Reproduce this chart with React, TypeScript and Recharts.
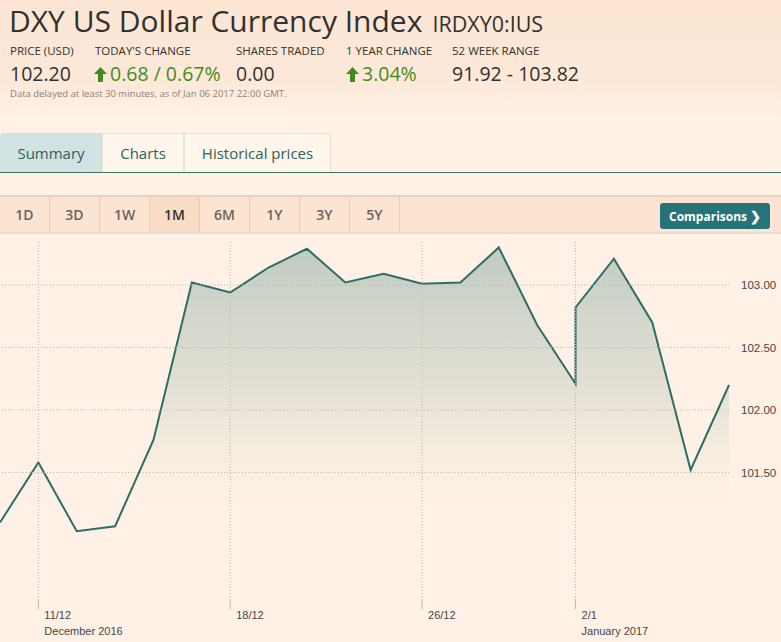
import { AreaChart, Area, XAxis, YAxis, ReferenceLine } from 'recharts';

// trading-day index along the x axis (2/1 appears twice: gap at the open)
const DAY_INDEX = [0, 1, 2, 3, 4, 5, 6, 7, 8, 9, 10, 11, 12, 13, 14, 15, 15, 16, 17, 18, 19];
const CLOSE = [101.10, 101.58, 101.03, 101.07, 101.76, 103.02, 102.94, 103.14, 103.29, 103.02, 103.09,
  103.01, 103.02, 103.30, 102.68, 102.21, 102.82, 103.21, 102.70, 101.52, 102.20];

const X_TICKS = [1, 6, 11, 15];
const X_TICK_LABELS = ['11/12', '18/12', '26/12', '2/1'];
const MONTH_LABELS = ['December 2016', '', '', 'January 2017'];
const Y_TICKS = [101.5, 102, 102.5, 103];

const RANGES = ['1D', '3D', '1W', '1M', '6M', '1Y', '3Y', '5Y'];
const TABS = ['Summary', 'Charts', 'Historical prices'];

const data = DAY_INDEX.map((d, i) => ({ day: d, close: CLOSE[i] }));
const minClose = Math.min(...CLOSE);

const FT = "'Open Sans', sans-serif";
const AX = "'Liberation Sans', Arial, sans-serif";
const GRID = '#bfb4a9';

function DateTick(props: any) {
  const { x, y, payload } = props;
  const k = X_TICKS.indexOf(payload.value);
  return (
    <g>
      <line x1={x} x2={x} y1={y} y2={y + 9} stroke={GRID} strokeWidth={1} />
      <text x={x + 6} y={y + 19} fontSize={11} fill="#4a4541" fontFamily={AX}>{X_TICK_LABELS[k]}</text>
      {MONTH_LABELS[k] && (
        <text x={x + 6} y={y + 35} fontSize={11} fill="#4a4541" fontFamily={AX}>{MONTH_LABELS[k]}</text>
      )}
    </g>
  );
}

function UpArrow({ x, y }: { x: number, y: number }) {
  return (
    <svg style={{ position: 'absolute', left: x, top: y }} width={13} height={15}>
      <path d="M6.5 0 L13 7 L9 7 L9 15 L4 15 L4 7 L0 7 Z" fill="#458b1c" />
    </svg>
  );
}

export default function App() {
  const abs = (left: number, top: number, extra: any = {}) => ({ position: 'absolute' as const, left, top, whiteSpace: 'nowrap' as const, ...extra });
  const label = { fontSize: 11.5, color: '#33302e', fontFamily: FT, lineHeight: '14px' };
  const value = { fontSize: 19.5, color: '#33302e', fontFamily: FT, lineHeight: '22px' };

  return (
    <div style={{ position: 'relative', width: 781, height: 642, overflow: 'hidden', background: '#fff1e5', fontFamily: FT }}>
      <style>{'body{margin:0}'}</style>
      <div style={abs(0, 0, { width: 781, height: 118, background: 'linear-gradient(#fce5d3, #fde9d9 70%, #fff1e5)' })} />

      <div style={abs(9, 4, { fontSize: 30, color: '#33302e', lineHeight: '34px' })}>
        DXY US Dollar Currency Index
        <span style={{ fontSize: 21.5, marginLeft: 10 }}>IRDXY0:IUS</span>
      </div>

      <div style={abs(10, 44, label)}>PRICE (USD)</div>
      <div style={abs(95, 44, label)}>TODAY'S CHANGE</div>
      <div style={abs(236, 44, label)}>SHARES TRADED</div>
      <div style={abs(346, 44, label)}>1 YEAR CHANGE</div>
      <div style={abs(452, 44, label)}>52 WEEK RANGE</div>

      <div style={abs(10, 63, value)}>102.20</div>
      <UpArrow x={94} y={67} />
      <div style={abs(110, 63, { ...value, color: '#458b1c' })}>0.68 / 0.67%</div>
      <div style={abs(236, 63, value)}>0.00</div>
      <UpArrow x={346} y={67} />
      <div style={abs(362, 63, { ...value, color: '#458b1c' })}>3.04%</div>
      <div style={abs(452, 63, value)}>91.92 - 103.82</div>

      <div style={abs(10, 88, { fontSize: 9.5, color: '#8c8178', lineHeight: '12px' })}>
        Data delayed at least 30 minutes, as of Jan 06 2017 22:00 GMT.
      </div>

      {/* tabs */}
      <div style={abs(0, 133, { display: 'flex', height: 39 })}>
        {TABS.map((t, i) => (
          <div key={t} style={{
            width: [102, 82, 147][i], height: 39, boxSizing: 'border-box',
            background: i === 0 ? '#d0e2e2' : '#fff6ec',
            border: i === 0 ? 'none' : '1px solid #e8dfd5', borderBottom: 'none', borderLeft: i === 0 ? 'none' : '1px solid #e8dfd5',
            borderTopRightRadius: i === 2 ? 4 : 0, borderTopLeftRadius: i === 0 ? 4 : 0,
            display: 'flex', alignItems: 'center', justifyContent: 'center',
            fontSize: 15, color: '#2f5f5e',
          }}>{t}</div>
        ))}
      </div>
      <div style={abs(0, 172, { width: 781, height: 1, background: '#3f7a5f' })} />

      {/* range bar */}
      <div style={abs(0, 195, { width: 781, height: 39, boxSizing: 'border-box', background: '#fbe5d2', borderTop: '2px solid #e8d2bf', borderBottom: '2px solid #eedacb' })} />
      {RANGES.map((r, i) => (
        <div key={r} style={abs(i * 50, 197, {
          width: 50, height: 35, boxSizing: 'border-box', borderRight: '1px solid #e6cfba',
          background: r === '1M' ? '#f8dcc5' : 'transparent',
          display: 'flex', alignItems: 'center', justifyContent: 'center',
          fontSize: 14, fontWeight: 600, color: r === '1M' ? '#33302e' : '#6e625a',
        })}>{r}</div>
      ))}
      <div style={abs(660, 203, {
        width: 110, height: 26, background: '#27737a', borderRadius: 3, color: '#fff',
        fontSize: 12, fontWeight: 700, display: 'flex', alignItems: 'center', justifyContent: 'space-between',
        padding: '0 9px', boxSizing: 'border-box',
      })}>
        <span>Comparisons</span><span style={{ fontSize: 13 }}>❯</span>
      </div>

      {/* chart */}
      <div style={abs(0, 236)}>
        <AreaChart width={781} height={406} data={data} margin={{ top: 4, right: 0, bottom: 0, left: 0 }}>
          <defs>
            <linearGradient id="dxyFill" x1="0" y1="0" x2="0" y2="1">
              <stop offset="0%" stopColor="#84a79e" stopOpacity={0.85} />
              <stop offset="50%" stopColor="#a3b9af" stopOpacity={0.5} />
              <stop offset="100%" stopColor="#fff1e5" stopOpacity={0} />
            </linearGradient>
          </defs>
          <XAxis
            dataKey="day" type="number" domain={[0, 19]} ticks={X_TICKS}
            axisLine={false} tickLine={false} tickSize={0} tickMargin={0} height={42}
            tick={<DateTick />} interval={0}
          />
          <YAxis
            orientation="right" type="number" domain={[100.48, 103.36]} allowDataOverflow
            ticks={Y_TICKS} width={52} axisLine={false} tickLine={false} tickMargin={6}
            tickFormatter={(v: number) => v.toFixed(2)}
            tick={{ fontSize: 11.5, fill: '#4a4541', fontFamily: AX, textAnchor: 'start' }}
          />
          {Y_TICKS.map(v => (
            <ReferenceLine key={'h' + v} y={v} stroke={GRID} strokeDasharray="1 2" />
          ))}
          {X_TICKS.map(v => (
            <ReferenceLine key={'v' + v} x={v} stroke={GRID} strokeDasharray="1 2" />
          ))}
          <Area
            type="linear" dataKey="close" baseValue={minClose}
            stroke="#2e6c67" strokeWidth={2} fill="url(#dxyFill)"
            isAnimationActive={false} dot={false} activeDot={false}
          />
        </AreaChart>
      </div>
    </div>
  );
}
